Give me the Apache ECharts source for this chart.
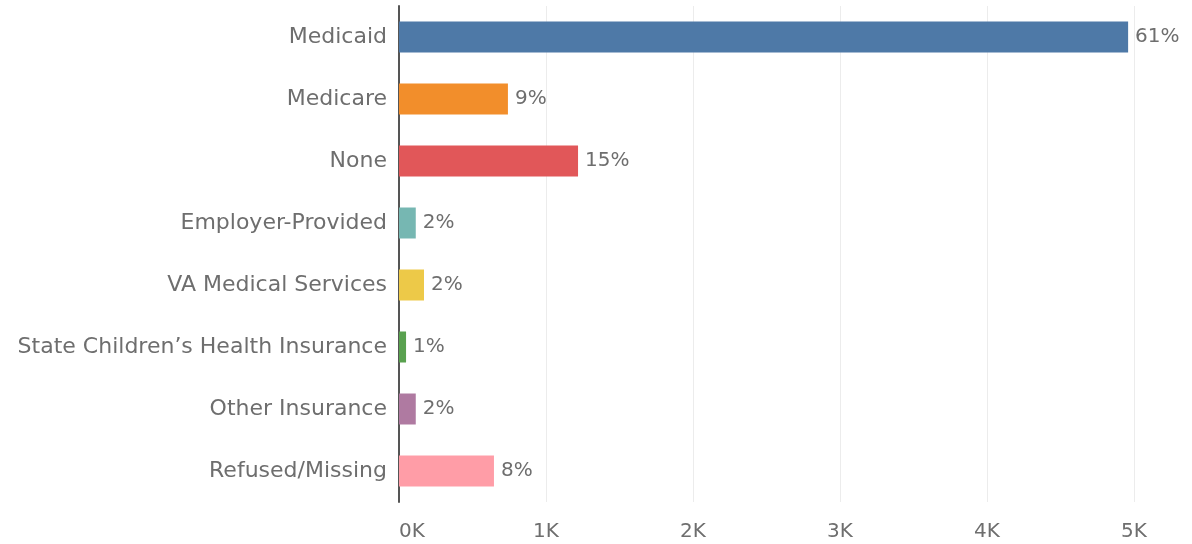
<!DOCTYPE html>
<html>
<head>
<meta charset="utf-8">
<script src="https://cdn.jsdelivr.net/npm/echarts@6/dist/echarts.min.js"></script>
<style>
  html, body { margin: 0; padding: 0; background: #fff; }
  #chart { width: 1192px; height: 544px; }
</style>
</head>
<body>
<div id="chart"></div>
<script>
// Insurance categories, top to bottom
const categories = [
  'Medicaid',
  'Medicare',
  'None',
  'Employer-Provided',
  'VA Medical Services',
  'State Children\u2019s Health Insurance',
  'Other Insurance',
  'Refused/Missing'
];
// Respondent counts per category
const counts = [4960, 741, 1218, 114, 170, 48, 114, 646];
// Share of respondents shown beside each bar
const shares = ['61%', '9%', '15%', '2%', '2%', '1%', '2%', '8%'];
const colors = ['#4e79a7', '#f28e2b', '#e15759', '#76b7b2', '#edc948', '#59a14f', '#af7aa1', '#ff9da7'];

const FONT = '"DejaVu Sans", "Noto Sans", sans-serif';
const TEXT = '#6e6e6e';

const chart = echarts.init(document.getElementById('chart'), null, { renderer: 'canvas' });
chart.setOption({
  animation: false,
  grid: { left: 399, right: 58, top: 6, bottom: 42, containLabel: false },
  xAxis: {
    type: 'value',
    min: 0,
    max: 5000,
    interval: 1000,
    axisLine: { show: false },
    axisTick: { show: false },
    splitLine: { show: true, lineStyle: { color: '#ececec', width: 1 } },
    axisLabel: {
      color: TEXT,
      fontFamily: FONT,
      fontSize: 20,
      margin: 20,
      alignMinLabel: 'left',
      formatter: v => (v / 1000) + 'K'
    }
  },
  yAxis: {
    type: 'category',
    data: categories,
    inverse: true,
    axisLine: { show: true, lineStyle: { color: '#555', width: 2 } },
    axisTick: { show: false },
    splitLine: { show: false },
    axisLabel: {
      color: TEXT,
      fontFamily: FONT,
      fontSize: 22,
      margin: 12
    }
  },
  series: [{
    type: 'bar',
    data: counts.map((v, i) => ({ value: v, itemStyle: { color: colors[i] } })),
    barCategoryGap: '50%',
    label: {
      show: true,
      position: 'right',
      distance: 7,
      color: TEXT,
      fontFamily: FONT,
      fontSize: 20,
      formatter: p => shares[p.dataIndex]
    }
  }]
});
</script>
</body>
</html>
